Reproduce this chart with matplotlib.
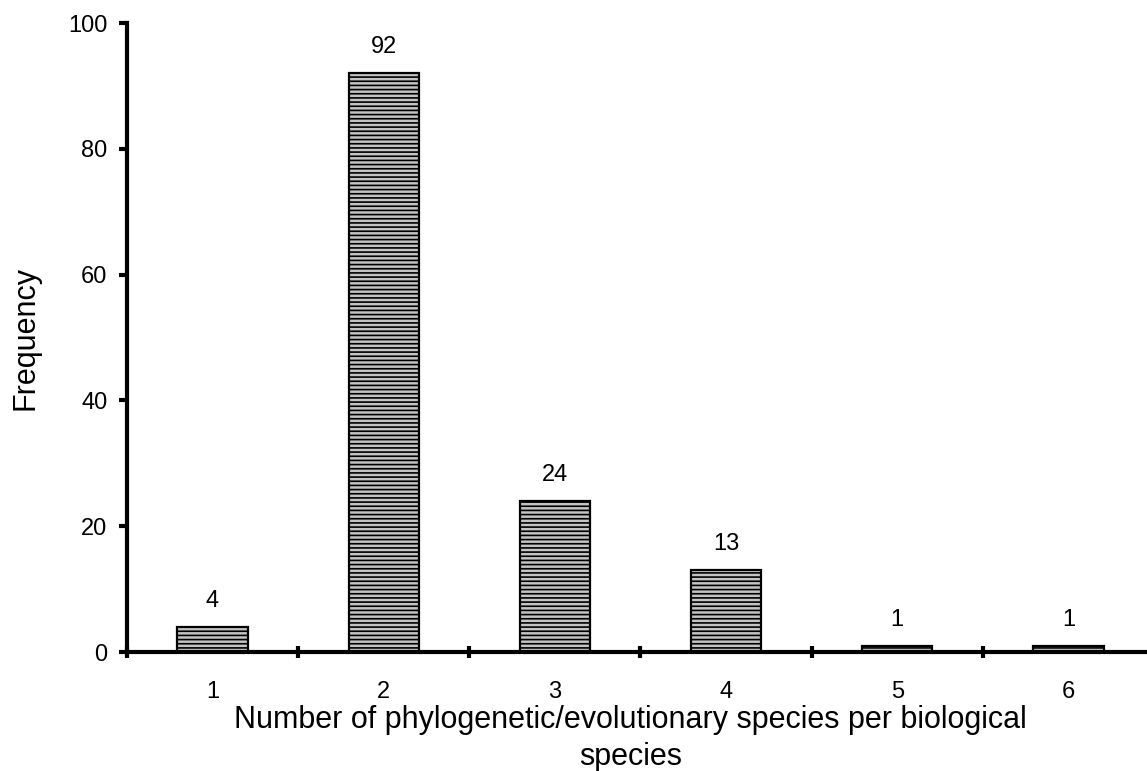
import matplotlib.pyplot as plt
import numpy as np

plt.rcParams['font.family'] = ['Liberation Sans', 'DejaVu Sans']
plt.rcParams['hatch.color'] = '#2a2a2a'
plt.rcParams['hatch.linewidth'] = 1.2

categories = [1, 2, 3, 4, 5, 6]
freq = [4, 92, 24, 13, 1, 1]

fig = plt.figure(figsize=(11.47, 7.71), dpi=100)
ax = fig.add_axes([0.1107, 0.1543, 0.8954, 0.8158])

x = np.array(categories)
ax.bar(x, freq, width=0.41, color='#c4c4c4', edgecolor='black', linewidth=1.6, hatch='----')

for xi, v in zip(x, freq):
    ax.text(xi, v + 2.4, str(v), ha='center', va='bottom', fontsize=17)

ax.set_xlim(0.5, 6.5)
ax.set_ylim(0, 100)
ax.set_yticks([0, 20, 40, 60, 80, 100])
ax.set_xticks(x)
ax.set_xticks(np.arange(0.5, 7, 1), minor=True)
ax.tick_params(axis='x', which='major', length=0, labelsize=17, pad=21)
ax.tick_params(axis='x', which='minor', length=8, width=3, direction='inout')
ax.tick_params(axis='y', length=6, width=3, direction='out', labelsize=17, pad=8)

for s in ['top', 'right']:
    ax.spines[s].set_visible(False)
for s in ['left', 'bottom']:
    ax.spines[s].set_linewidth(3)

ax.set_ylabel('Frequency', fontsize=22, labelpad=20)
ax.set_xlabel('Number of phylogenetic/evolutionary species per biological\nspecies',
              fontsize=22, labelpad=2, linespacing=1.3)
ax.xaxis.set_label_coords(0.49, -0.085)

fig.savefig('out.png', dpi=100)
